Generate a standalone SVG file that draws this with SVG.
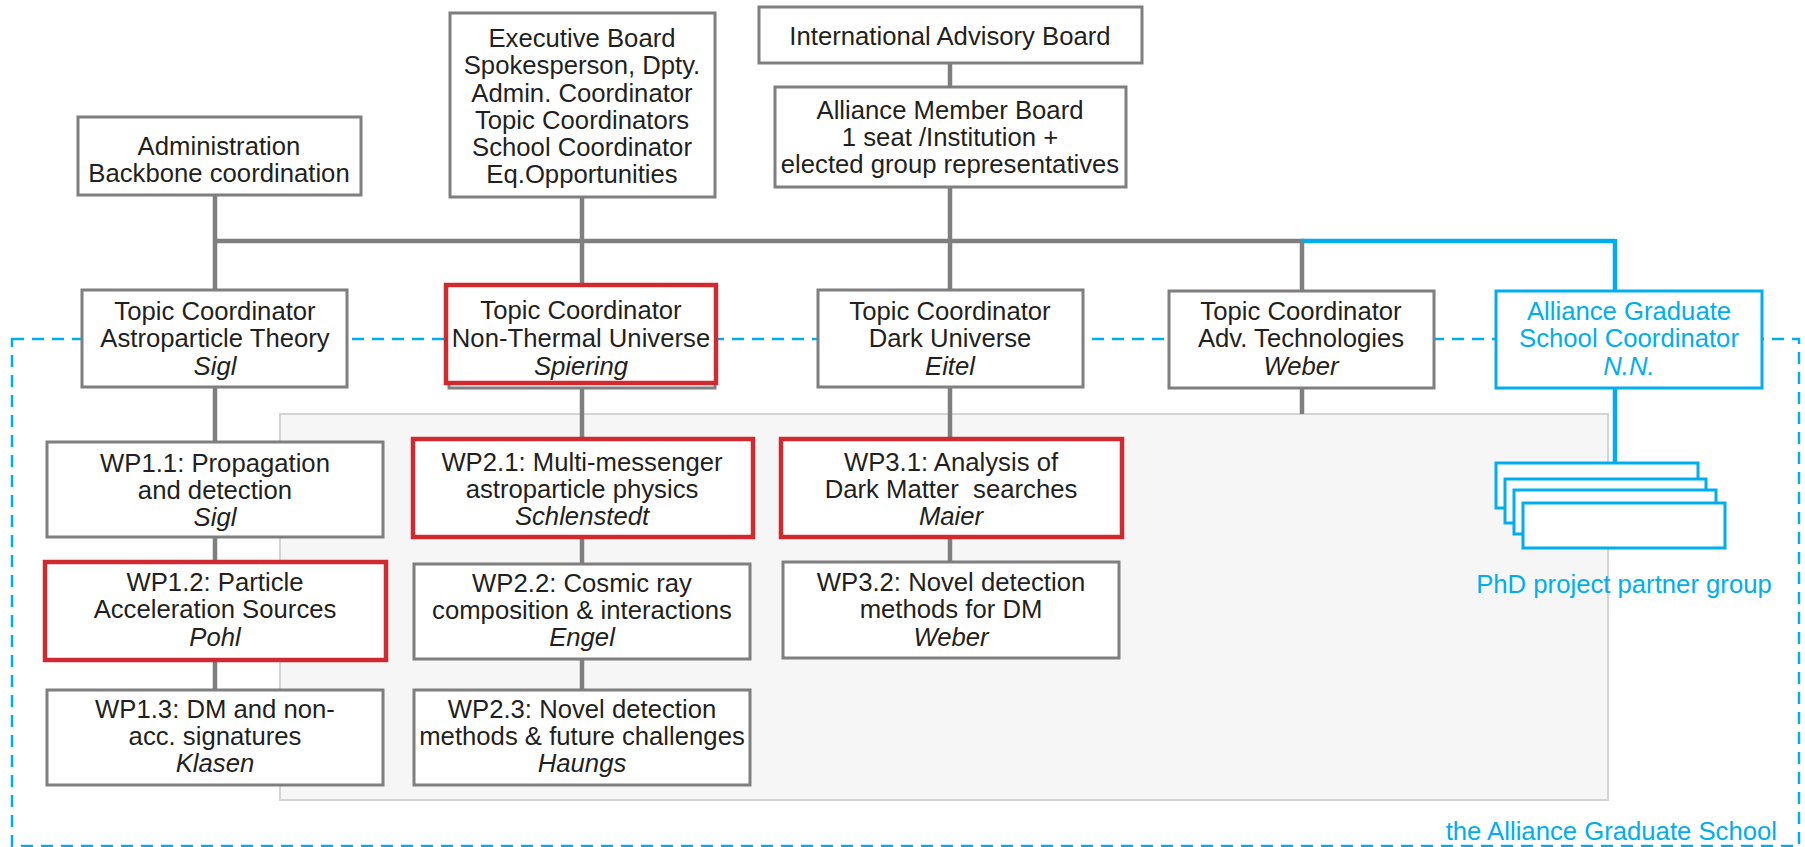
<svg xmlns="http://www.w3.org/2000/svg" width="1805" height="847" viewBox="0 0 1805 847">
<style>
  .box{fill:#fff;stroke:#7f7f7f;stroke-width:3}
  .red{fill:#fff;stroke:#d02a30;stroke-width:4.5}
  .bbox{fill:#fff;stroke:#00aeef;stroke-width:3}
  .conn{stroke:#7f7f7f;stroke-width:4.5;fill:none}
  .bconn{stroke:#00aeef;stroke-width:4.5;fill:none}
  text{font-family:"Liberation Sans",Arial,sans-serif;font-size:25.7px;fill:#231f20;text-anchor:middle}
  .it{font-style:italic}
  .blue{fill:#00aeef}
</style>
<rect width="1805" height="847" fill="#fff"/>
<g id="school-area">
  <rect x="12" y="339" width="1787" height="507" fill="none" stroke="#00aeef" stroke-width="2.5" stroke-dasharray="12 8"/>
  <rect x="280" y="414" width="1328" height="386" fill="#f6f6f6" stroke="#d4d4d4" stroke-width="2"/>
  <text class="blue" x="1777" y="840" style="text-anchor:end">the Alliance Graduate School</text>
</g>
<g id="connectors">
  <line class="conn" x1="215" y1="241" x2="1304" y2="241"/>
  <line class="bconn" x1="1302" y1="241" x2="1615" y2="241"/>
  <line class="bconn" x1="1615" y1="239" x2="1615" y2="463"/>
  <line class="conn" x1="215" y1="195" x2="215" y2="690"/>
  <line class="conn" x1="582" y1="197" x2="582" y2="690"/>
  <line class="conn" x1="950" y1="63" x2="950" y2="562"/>
  <line class="conn" x1="1302" y1="241" x2="1302" y2="414"/>
</g>
<g id="admin">
  <rect class="box" x="78" y="117" width="283" height="78"/>
  <text x="219" y="155">Administration</text>
  <text x="219" y="182">Backbone coordination</text>
</g>
<g id="exec">
  <rect class="box" x="450" y="13" width="265" height="184"/>
  <text x="582" y="47">Executive Board</text>
  <text x="582" y="74">Spokesperson, Dpty.</text>
  <text x="582" y="102">Admin. Coordinator</text>
  <text x="582" y="129">Topic Coordinators</text>
  <text x="582" y="156">School Coordinator</text>
  <text x="582" y="183">Eq.Opportunities</text>
</g>
<g id="iab">
  <rect class="box" x="759" y="7" width="383" height="56"/>
  <text x="950" y="45">International Advisory Board</text>
</g>
<g id="amb">
  <rect class="box" x="775" y="87" width="351" height="100"/>
  <text x="950" y="119">Alliance Member Board</text>
  <text x="950" y="146">1 seat /Institution +</text>
  <text x="950" y="173">elected group representatives</text>
</g>
<g id="tc-astro">
  <rect class="box" x="82" y="290" width="265" height="97"/>
  <text x="215" y="320">Topic Coordinator</text>
  <text x="215" y="347">Astroparticle Theory</text>
  <text class="it" x="215" y="375">Sigl</text>
</g>
<g id="tc-nonthermal">
  <rect class="box" x="449" y="290" width="266" height="98"/>
  <rect class="red" x="446" y="285" width="270" height="98"/>
  <text x="581" y="319">Topic Coordinator</text>
  <text x="581" y="347">Non-Thermal Universe</text>
  <text class="it" x="581" y="375">Spiering</text>
</g>
<g id="tc-dark">
  <rect class="box" x="818" y="290" width="265" height="97"/>
  <text x="950" y="320">Topic Coordinator</text>
  <text x="950" y="347">Dark Universe</text>
  <text class="it" x="950" y="375">Eitel</text>
</g>
<g id="tc-advtech">
  <rect class="box" x="1169" y="291" width="265" height="97"/>
  <text x="1301" y="320">Topic Coordinator</text>
  <text x="1301" y="347">Adv. Technologies</text>
  <text class="it" x="1301" y="375">Weber</text>
</g>
<g id="grad-coordinator">
  <rect class="bbox" x="1496" y="291" width="266" height="97"/>
  <text class="blue" x="1629" y="320">Alliance Graduate</text>
  <text class="blue" x="1629" y="347">School Coordinator</text>
  <text class="blue it" x="1629" y="375">N.N.</text>
</g>
<g id="phd-groups">
  <rect class="bbox" x="1496" y="463" width="202" height="45"/>
  <rect class="bbox" x="1505" y="479" width="201" height="44"/>
  <rect class="bbox" x="1514" y="490" width="202" height="44"/>
  <rect class="bbox" x="1523" y="503" width="202" height="45"/>
  <text class="blue" x="1624" y="593">PhD project partner group</text>
</g>
<g id="wp11">
  <rect class="box" x="47" y="442" width="336" height="95"/>
  <text x="215" y="472">WP1.1: Propagation</text>
  <text x="215" y="499">and detection</text>
  <text class="it" x="215" y="526">Sigl</text>
</g>
<g id="wp12">
  <rect class="red" x="45" y="562" width="341" height="98"/>
  <text x="215" y="591">WP1.2: Particle</text>
  <text x="215" y="618">Acceleration Sources</text>
  <text class="it" x="215" y="646">Pohl</text>
</g>
<g id="wp13">
  <rect class="box" x="47" y="690" width="336" height="95"/>
  <text x="215" y="718">WP1.3: DM and non-</text>
  <text x="215" y="745">acc. signatures</text>
  <text class="it" x="215" y="772">Klasen</text>
</g>
<g id="wp21">
  <rect class="red" x="413" y="439" width="340" height="98"/>
  <text x="582" y="471">WP2.1: Multi-messenger</text>
  <text x="582" y="498">astroparticle physics</text>
  <text class="it" x="582" y="525">Schlenstedt</text>
</g>
<g id="wp22">
  <rect class="box" x="414" y="564" width="336" height="95"/>
  <text x="582" y="592">WP2.2: Cosmic ray</text>
  <text x="582" y="619">composition &amp; interactions</text>
  <text class="it" x="582" y="646">Engel</text>
</g>
<g id="wp23">
  <rect class="box" x="414" y="690" width="336" height="95"/>
  <text x="582" y="718">WP2.3: Novel detection</text>
  <text x="582" y="745">methods &amp; future challenges</text>
  <text class="it" x="582" y="772">Haungs</text>
</g>
<g id="wp31">
  <rect class="red" x="781" y="439" width="341" height="98"/>
  <text x="951" y="471">WP3.1: Analysis of</text>
  <text x="951" y="498">Dark Matter&#160; searches</text>
  <text class="it" x="951" y="525">Maier</text>
</g>
<g id="wp32">
  <rect class="box" x="783" y="562" width="336" height="96"/>
  <text x="951" y="591">WP3.2: Novel detection</text>
  <text x="951" y="618">methods for DM</text>
  <text class="it" x="951" y="646">Weber</text>
</g>
</svg>
